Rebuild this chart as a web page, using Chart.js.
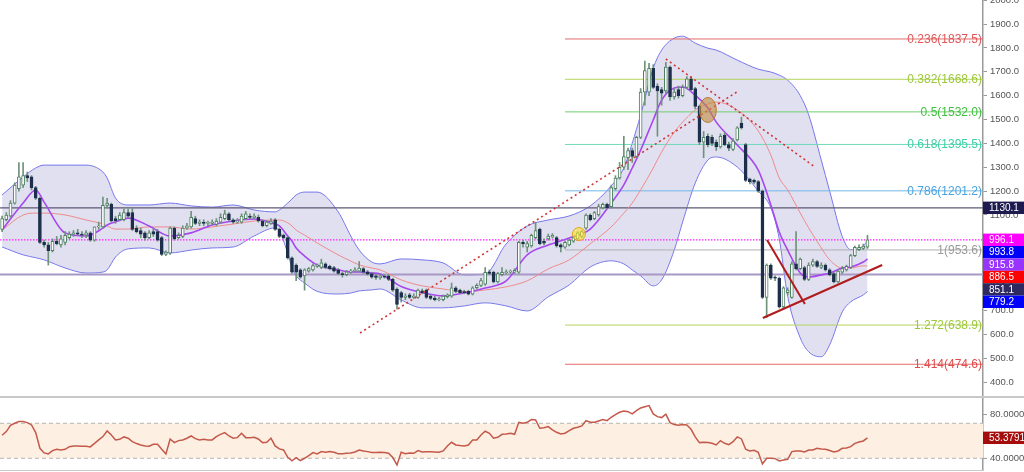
<!DOCTYPE html>
<html><head><meta charset="utf-8">
<script src="https://cdn.jsdelivr.net/npm/chart.js@4.4.1/dist/chart.umd.min.js"></script>
<style>
html,body{margin:0;padding:0;background:#fff;width:1024px;height:472px;overflow:hidden;}
#main{position:absolute;left:0;top:0;width:1024px;height:396px;}
#sep{position:absolute;left:0;top:396px;width:1024px;height:2px;background:#c8c8c8;}
#rsiBox{position:absolute;left:0;top:398px;width:1024px;height:74px;}
#bot{position:absolute;left:0;top:470px;width:983px;height:1px;background:#c8c8c8;}
</style></head><body>
<div id="main"><canvas id="c1" width="1024" height="396"></canvas></div>
<div id="sep"></div>
<div id="rsiBox"><canvas id="c2" width="1024" height="74"></canvas></div>
<div id="bot"></div>
<script>
// ---------- DATA ----------
const open = [1040,1080,1095,1150,1210,1225,1265,1260,1215,1170,
985,975,950,990,975,985,1005,1020,1025,1020,
1015,1025,995,1050,1050,1140,1145,1085,1080,1080,
1110,1110,1045,1035,1025,1005,1030,1030,1005,935,
940,1045,1005,1010,1045,1050,1085,1065,1070,1065,
1065,1060,1070,1085,1105,1080,1070,1070,1085,1095,
1090,1090,1075,1055,1065,1080,1040,1015,1005,920,
890,870,845,865,870,885,880,895,885,880,
870,855,850,860,865,865,875,862,855,845,
836,842,845,830,790,775,755,765,755,755,
782,785,760,752,745,745,758,760,795,785,
778,780,768,795,805,810,862,860,820,850,
858,860,860,860,985,965,970,1005,1040,990,
1000,1008,1005,975,965,975,990,1000,1010,1045,
1100,1085,1100,1130,1145,1135,1210,1255,1300,1340,
1370,1345,1425,1615,1615,1715,1640,1625,1620,1720,
1595,1625,1600,1635,1670,1630,1555,1405,1430,1425,
1405,1385,1435,1395,1375,1415,1485,1395,1250,1245,
1240,1200,755,890,840,835,715,775,755,895,
875,880,830,890,905,880,890,870,855,820,
860,870,880,930,955,960,965];
const high = [1095,1110,1160,1235,1320,1320,1280,1265,1220,1175,
995,985,1000,1010,1015,1030,1030,1035,1040,1030,
1035,1030,1050,1070,1175,1170,1150,1095,1110,1125,
1125,1130,1055,1045,1030,1035,1045,1040,1010,950,
1050,1050,1025,1055,1065,1115,1095,1080,1080,1075,
1080,1085,1105,1120,1110,1085,1085,1105,1115,1105,
1105,1100,1080,1075,1085,1085,1045,1020,1010,925,
895,875,875,880,895,895,915,900,890,885,
875,860,868,872,880,905,880,868,860,850,
850,850,850,835,795,780,770,772,770,790,
790,790,765,760,755,765,770,815,800,790,
785,785,800,812,835,880,870,865,860,880,
870,870,875,990,995,990,1020,1070,1045,1000,
1020,1022,1010,980,990,1000,1010,1030,1035,1105,
1105,1115,1145,1150,1150,1225,1265,1320,1430,1380,
1380,1430,1630,1745,1735,1730,1650,1635,1740,1725,
1630,1640,1645,1680,1680,1635,1560,1450,1440,1435,
1415,1440,1445,1405,1420,1470,1510,1400,1255,1250,
1245,1205,895,895,845,840,800,795,905,1030,
920,885,900,915,910,900,895,875,860,870,
885,890,935,970,975,978,1015];
const low = [1030,1075,1090,1145,1200,1215,1240,1205,1165,980,
965,890,945,975,965,975,1000,1010,1015,1005,
1005,990,990,1040,1045,1130,1070,1065,1075,1075,
1090,1035,1025,1005,995,1000,1010,990,930,930,
935,995,1000,1005,1040,1045,1060,1055,1055,1055,
1060,1055,1065,1080,1075,1065,1065,1065,1080,1085,
1085,1070,1050,1050,1060,1035,1005,1000,915,855,
825,835,785,860,865,880,875,875,870,860,
850,840,845,855,860,860,855,848,835,830,
830,835,825,780,705,735,745,750,750,750,
770,750,745,740,740,740,752,755,775,770,
770,765,765,790,800,805,850,815,815,845,
852,855,855,855,965,945,965,1000,975,975,
995,1003,965,945,960,970,985,995,1005,1040,
1075,1080,1095,1125,1125,1130,1205,1250,1290,1290,
1320,1340,1420,1560,1600,1630,1430,1560,1610,1580,
1585,1590,1595,1630,1620,1545,1395,1340,1385,1390,
1370,1380,1390,1370,1370,1410,1460,1240,1230,1230,
1195,750,670,830,825,710,705,765,750,870,
870,825,825,885,880,875,865,845,815,815,
855,865,875,925,950,955,960];
const close = [1085,1100,1150,1225,1260,1265,1255,1215,1170,985,
975,950,990,980,1000,1015,1020,1025,1020,1015,
1025,995,1050,1055,1140,1150,1075,1075,1100,1110,
1095,1040,1030,1020,1005,1025,1020,995,935,945,
1045,1000,1015,1045,1055,1090,1065,1070,1065,1066,
1070,1075,1090,1105,1080,1070,1075,1095,1105,1090,
1095,1075,1055,1070,1075,1040,1010,1005,920,860,
860,840,870,875,888,890,900,880,875,865,
855,850,862,866,870,878,860,852,840,838,
845,840,830,785,725,755,760,755,760,785,
775,755,750,745,748,760,765,795,780,775,
775,768,795,805,825,860,855,820,855,860,
862,865,868,985,980,980,1015,1035,980,982,
1012,1015,970,965,985,995,1005,1025,1030,1100,
1080,1110,1135,1145,1130,1215,1255,1300,1345,1370,
1345,1425,1615,1705,1715,1635,1620,1610,1720,1595,
1615,1600,1635,1670,1625,1555,1405,1425,1395,1400,
1385,1430,1395,1380,1410,1465,1465,1245,1240,1238,
1200,755,890,835,835,715,795,785,895,875,
915,830,890,905,885,890,870,850,820,865,
875,885,930,965,965,970,996.1];

// indicator samples (candle index -> value)
const sampleIdx = [0,5,8,10,15,20,24,25,27,30,35,40,45,50,55,60,65,66,68,69,70,72,75,80,83,85,88,90,95,100,105,110,115,120,125,130,135,140,145,148,150,152,155,157,160,162,165,168,170,175,180,183,185,187,190,192,195,197,200,202,205,206];
const bbUpper = [1184,1259,1297,1309,1309,1309,1280,1255,1171,1142,1142,1150,1138,1133,1142,1121,1113,1121,1150,1167,1184,1196,1196,1113,1012,953,903,895,916,912,899,849,853,979,1054,1079,1096,1138,1222,1297,1401,1519,1715,1791,1841,1849,1820,1799,1791,1749,1711,1699,1686,1665,1600,1520,1330,1200,1010,955,970,993.8];
const bbLower = [966,933,921,912,878,857,861,870,924,958,962,941,953,962,966,1012,1046,1033,939,880,845,815,780,769,773,782,786,790,744,711,711,719,732,719,698,757,807,882,908,895,870,845,803,828,953,1071,1234,1330,1343,1301,1200,1130,1000,760,585,527,506,556,694,736,765,779.2];
const maFast = [1037,1150,1205,1154,1025,1012,1045,1058,1071,1087,1054,1012,1025,1058,1075,1083,1062,1054,1012,991,962,928,891,870,861,861,857,853,800,774,761,773,794,824,933,974,1004,1041,1150,1226,1297,1372,1498,1581,1632,1636,1602,1548,1489,1393,1288,1142,1029,953,857,840,849,857,878,882,903,915.8];
const maSlow = [1037,1100,1108,1108,1100,1079,1062,1054,1041,1041,1050,1050,1041,1050,1062,1075,1079,1079,1067,1054,1037,1016,983,933,907,891,878,870,828,803,790,778,786,799,824,874,912,979,1050,1108,1150,1205,1297,1364,1447,1489,1540,1565,1573,1540,1452,1351,1255,1205,1108,1046,962,912,878,878,887,886.5];

const fibRatios = ['0.236','0.382','0.5','0.618','0.786','1','1.272','1.414'];
const fibValues = [1837.5,1668.6,1532.0,1395.5,1201.2,953.6,638.9,474.6];
const fibStartIdx = 134;
const levelLines = [1130.1, 851.1];
const yTicks = [400,500,600,700,800,900,1000,1100,1200,1300,1400,1500,1600,1700,1800,1900,2000];

// drawn trendlines: [index, price] endpoints
const trendRise = [[85.2,605.6],[174.9,1615.3]];
const trendFall = [[158.0,1753.6],[193.5,1301]];
const trendSupport = [[181.1,668.4],[209.5,890.5]];
const trendShort = [[182.1,995.2],[191.1,727]];
const markerBig = [168.0,1540];
const markerSmall = [137.3,1020];

const rsi = [56.3,60.5,67.7,70,71.9,71.9,70.8,68.1,59.3,41.4,
36.1,35,38.8,40.3,39.5,40.3,43.3,44.1,44.1,43.7,
43.7,43,47.1,51,54.8,61.2,56.7,51,51.7,54.4,
52.9,49,46.8,45.2,44.1,43.7,46,46,40.3,35,
52,47.9,50.2,51,52.9,55.5,52.5,51,51.7,51,
51,54.8,57.4,59.3,55.5,52.9,53.6,58.6,53.6,53.6,
54,52.1,47.9,48.3,52.9,44.1,40.7,39.5,31.1,27,
30.8,27.3,30,33,36.5,35,37.6,36.9,37.6,36.9,
35.3,35.3,35.7,36.1,37.2,39.5,38.4,37.6,36.5,36.5,
36.9,36.5,35.7,30.8,22.4,36.9,35.3,36.1,35.7,38.8,
37.2,37.6,37.6,37.2,36.9,38.4,44.1,48.3,45.2,44.5,
44.1,45.2,51,51,56.7,60.9,58.6,52.9,54,57.4,
57.8,58.6,57.4,71.1,70,71.1,74.2,73.8,64.3,65,
66.2,62.4,59.7,57.8,58.6,61.6,64.3,65.4,67,73,
71.1,71.1,72.7,74.2,73,76.9,79.9,82.6,84.1,83.3,
80.7,84.5,87.5,89,90.2,80.7,77.6,76.5,80.3,70.8,
68.5,67.7,68.5,68.1,63.1,54.4,47.9,48.3,47.9,47.1,
45.2,50.2,47.1,45.6,49,54.4,52.1,40.3,38.4,39.1,
36.9,23.5,30,30,29.6,27,28.1,28.9,37.6,38.4,
38.4,37.2,39.5,39.5,41.4,40.7,40.3,38.8,37.2,38.4,
41.4,41.8,43.3,47.1,48.7,49.8,53.3791];
const rsiLevels = [70, 30];
const rsiTicks = [80, 40];

// ---------- STYLES ----------
Chart.defaults.font.family = '"Liberation Sans", Arial, sans-serif';
const X_MIN = -0.5, X_MAX = 233.5;
const fibLineColors = ['#e46a6a','#b4d45c','#6fcf6f','#6fdcbc','#72b6e8','#b0b0b0','#b4d45c','#e46a6a'];
const fibTextColors = ['#e05656','#9cc83a','#3fbf3f','#3fcfa6','#4aa4e0','#9a9a9a','#9cc83a','#e04a4a'];
const bull = '#4e7f60', bear = '#1d2f4b';

const pts = (idx, vals) => idx.map((i,k)=>({x:i,y:vals[k]}));
const seg = (a) => a.map(p=>({x:p[0],y:p[1]}));
const last = close.length - 1;

const datasets = [];
datasets.push({type:'line', data:pts(sampleIdx,bbUpper), borderColor:'#7676ee', borderWidth:1, pointRadius:0,
  cubicInterpolationMode:'monotone', fill:'+1', backgroundColor:'rgba(140,140,205,0.27)', order:20});
datasets.push({type:'line', data:pts(sampleIdx,bbLower), borderColor:'#7676ee', borderWidth:1, pointRadius:0,
  cubicInterpolationMode:'monotone', fill:false, order:20});
datasets.push({type:'line', data:pts(sampleIdx,maSlow), borderColor:'#ee8a8a', borderWidth:1, pointRadius:0,
  cubicInterpolationMode:'monotone', fill:false, order:12});
datasets.push({type:'line', data:pts(sampleIdx,maFast), borderColor:'#a648ee', borderWidth:1.6, pointRadius:0,
  cubicInterpolationMode:'monotone', fill:false, order:11});
fibValues.forEach((v,k)=>{
  datasets.push({type:'line', data:[{x:fibStartIdx,y:v},{x:X_MAX,y:v}], borderColor:fibLineColors[k], borderWidth:1,
    pointRadius:0, fill:false, order:15});
});
datasets.push({type:'line', data:[{x:X_MIN,y:levelLines[0]},{x:X_MAX,y:levelLines[0]}], borderColor:'#5e5874', borderWidth:1.3, pointRadius:0, fill:false, order:14});
datasets.push({type:'line', data:[{x:X_MIN,y:levelLines[1]},{x:X_MAX,y:levelLines[1]}], borderColor:'#a898c4', borderWidth:2, pointRadius:0, fill:false, order:14});
datasets.push({type:'line', data:[{x:X_MIN,y:close[last]},{x:X_MAX,y:close[last]}], borderColor:'#ff22ff', borderWidth:1.2, borderDash:[1.5,1.5], pointRadius:0, fill:false, order:14});
// candles
datasets.push({type:'bar', data:low.map((l,i)=>({x:i,y:[l,high[i]]})), backgroundColor:'#6f927d',
  barThickness:1, grouped:false, borderWidth:0, order:6});
datasets.push({type:'bar', data:open.map((o,i)=>({x:i,y:[o,close[i]]})),
  backgroundColor:open.map((o,i)=>close[i]>=o?'#ffffff':bear),
  borderColor:open.map((o,i)=>close[i]>=o?bull:bear),
  borderWidth:1, borderSkipped:false, barThickness:3, minBarLength:1, grouped:false, order:5});
// trendlines
datasets.push({type:'line', data:seg(trendRise), borderColor:'#d03636', borderWidth:1.6, borderDash:[2,3], pointRadius:0, fill:false, order:1});
datasets.push({type:'line', data:seg(trendFall), borderColor:'#d03636', borderWidth:1.6, borderDash:[2,3], pointRadius:0, fill:false, order:1});
datasets.push({type:'line', data:seg(trendSupport), borderColor:'#b01c1c', borderWidth:2, pointRadius:0, fill:false, order:1});
datasets.push({type:'line', data:seg(trendShort), borderColor:'#b01c1c', borderWidth:2, pointRadius:0, fill:false, order:1});

const overlay = {
  id:'overlay',
  afterDatasetsDraw(chart){
    const {ctx, chartArea, scales:{x,y}} = chart;
    ctx.save();
    ctx.beginPath();
    ctx.ellipse(x.getPixelForValue(markerBig[0]), y.getPixelForValue(markerBig[1]), 8.5, 12.5, 0, 0, Math.PI*2);
    ctx.fillStyle='rgba(196,140,64,0.62)'; ctx.fill();
    ctx.strokeStyle='#b67b34'; ctx.lineWidth=1; ctx.stroke();
    ctx.beginPath();
    ctx.arc(x.getPixelForValue(markerSmall[0]), y.getPixelForValue(markerSmall[1]), 6.5, 0, Math.PI*2);
    ctx.fillStyle='rgba(255,228,40,0.6)'; ctx.fill();
    ctx.strokeStyle='#e0a418'; ctx.stroke();
    ctx.font='12px "Liberation Sans", Arial, sans-serif';
    ctx.textAlign='right'; ctx.textBaseline='middle';
    fibRatios.forEach((r,k)=>{
      ctx.fillStyle=fibTextColors[k];
      ctx.fillText(r+'('+fibValues[k].toFixed(1)+')', chartArea.right-1, y.getPixelForValue(fibValues[k])+0.5);
    });
    ctx.restore();
  },
  afterDraw(chart){
    const {ctx, chartArea, scales:{y}} = chart;
    const tags = [
      {v:levelLines[0], bg:'#1d1a4f'},
      {v:close[last], bg:'#ff00ff'},
      {v:bbUpper[bbUpper.length-1], bg:'#0000ff'},
      {v:maFast[maFast.length-1], bg:'#9933ff'},
      {v:maSlow[maSlow.length-1], bg:'#ff0000'},
      {v:levelLines[1], bg:'#2f2962'},
      {v:bbLower[bbLower.length-1], bg:'#0000ff'}
    ].sort((a,b)=>b.v-a.v);
    const h = 12.4; let prevBottom = -1e9;
    ctx.save();
    ctx.font='10px "Liberation Sans", Arial, sans-serif';
    ctx.textAlign='left'; ctx.textBaseline='middle';
    tags.forEach(t=>{
      let top = y.getPixelForValue(t.v) - h/2;
      if (top < prevBottom) top = prevBottom;
      ctx.fillStyle=t.bg; ctx.fillRect(chartArea.right, top, 1024-chartArea.right, h);
      ctx.fillStyle='#ffffff'; ctx.fillText(t.v.toFixed(1), chartArea.right+6, top+h/2+0.5);
      prevBottom = top + h;
    });
    ctx.restore();
  }
};

new Chart(document.getElementById('c1'), {
  type:'bar',
  data:{datasets},
  options:{
    responsive:false, animation:false, events:[],
    layout:{padding:0},
    plugins:{legend:{display:false}, tooltip:{enabled:false}},
    scales:{
      x:{type:'linear', min:X_MIN, max:X_MAX, display:false, offset:false},
      y:{position:'right', min:341.6, max:2000.8,
        afterBuildTicks:(s)=>{ s.ticks = yTicks.map(v=>({value:v})); },
        afterFit:(s)=>{ s.width = 41; s.paddingTop = 0; s.paddingBottom = 0; },
        ticks:{autoSkip:false, padding:3, color:'#555', font:{size:9.5}, callback:(v)=>Number(v).toFixed(1)},
        grid:{drawOnChartArea:false, drawTicks:true, tickLength:4, tickColor:'#999'},
        border:{display:true, color:'#999', width:1.5}
      }
    }
  },
  plugins:[overlay]
});

// ---------- RSI ----------
const rsiOverlay = {
  id:'rsiOverlay',
  afterDraw(chart){
    const {ctx, chartArea, scales:{y}} = chart;
    const lastV = rsi[rsi.length-1];
    const cy = y.getPixelForValue(lastV);
    const h = 12.4;
    ctx.save();
    ctx.font='9.5px "Liberation Sans", Arial, sans-serif';
    ctx.textAlign='left'; ctx.textBaseline='middle';
    rsiTicks.forEach(v=>{
      let py = y.getPixelForValue(v);
      if (Math.abs(py-cy) < h) py = cy + h/2 + 14.4;
      ctx.strokeStyle='#999'; ctx.lineWidth=1;
      ctx.beginPath(); ctx.moveTo(chartArea.right, py); ctx.lineTo(chartArea.right+4, py); ctx.stroke();
      ctx.fillStyle='#555'; ctx.fillText(v.toFixed(4), chartArea.right+7, py);
    });
    ctx.fillStyle='#a50d0d'; ctx.fillRect(chartArea.right, cy-h/2, 1024-chartArea.right, h);
    ctx.fillStyle='#fff'; ctx.font='10px "Liberation Sans", Arial, sans-serif';
    ctx.fillText(lastV.toFixed(4), chartArea.right+6, cy+0.5);
    ctx.restore();
  }
};
new Chart(document.getElementById('c2'), {
  type:'line',
  data:{datasets:[
    {data:[{x:X_MIN,y:rsiLevels[0]},{x:X_MAX,y:rsiLevels[0]}], borderColor:'#b4b4b4', borderWidth:1, borderDash:[4,3], pointRadius:0, fill:'+1', backgroundColor:'#fdf0e2', order:5},
    {data:[{x:X_MIN,y:rsiLevels[1]},{x:X_MAX,y:rsiLevels[1]}], borderColor:'#b4b4b4', borderWidth:1, borderDash:[4,3], pointRadius:0, fill:false, order:4},
    {data:rsi.map((v,i)=>({x:i,y:v})), borderColor:'#c4584a', borderWidth:1.5, pointRadius:0, fill:false, order:1}
  ]},
  options:{
    responsive:false, animation:false, events:[],
    layout:{padding:{bottom:2}},
    plugins:{legend:{display:false}, tooltip:{enabled:false}},
    scales:{
      x:{type:'linear', min:X_MIN, max:X_MAX, display:false},
      y:{position:'right', min:16.6, max:98.9, afterFit:(s)=>{ s.width = 41; s.paddingTop = 0; s.paddingBottom = 0; },
        ticks:{display:false}, grid:{display:false}, border:{display:true, color:'#999', width:1.5}}
    }
  },
  plugins:[rsiOverlay]
});
</script>
</body></html>
